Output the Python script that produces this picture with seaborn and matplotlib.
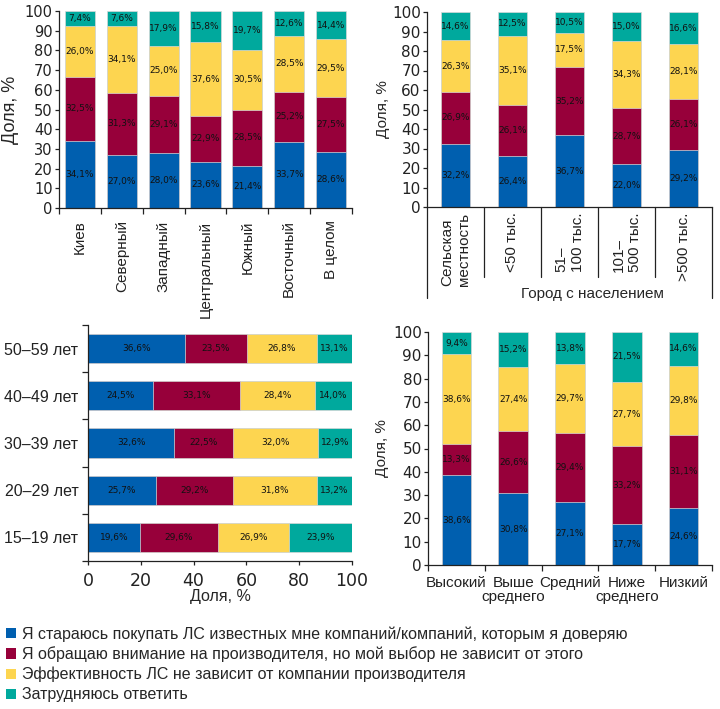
import matplotlib
matplotlib.use('Agg')
import matplotlib.pyplot as plt
import seaborn as sns
import pandas as pd
import numpy as np
from matplotlib.patches import Patch
from matplotlib.transforms import blended_transform_factory

# ---------------- data ----------------
series_names = [
    'Я стараюсь покупать ЛС известных мне компаний/компаний, которым я доверяю',
    'Я обращаю внимание на производителя, но мой выбор не зависит от этого',
    'Эффективность ЛС не зависит от компании производителя',
    'Затрудняюсь ответить',
]
colors = ['#005FAF', '#97003A', '#FDD550', '#00A99D']

region_cats = ['Киев', 'Северный', 'Западный', 'Центральный', 'Южный', 'Восточный', 'В целом']
region_trust = [34.1, 27.0, 28.0, 23.6, 21.4, 33.7, 28.6]
region_attention = [32.5, 31.3, 29.1, 22.9, 28.5, 25.2, 27.5]
region_indep = [26.0, 34.1, 25.0, 37.6, 30.5, 28.5, 29.5]
region_unsure = [7.4, 7.6, 17.9, 15.8, 19.7, 12.6, 14.4]

city_cats = ['Сельская\nместность', '<50 тыс.', '51–\n100 тыс.', '101–\n500 тыс.', '>500 тыс.']
city_group_label = 'Город с населением'
city_trust = [32.2, 26.4, 36.7, 22.0, 29.2]
city_attention = [26.9, 26.1, 35.2, 28.7, 26.1]
city_indep = [26.3, 35.1, 17.5, 34.3, 28.1]
city_unsure = [14.6, 12.5, 10.5, 15.0, 16.6]

age_cats = ['50–59 лет', '40–49 лет', '30–39 лет', '20–29 лет', '15–19 лет']
age_trust = [36.6, 24.5, 32.6, 25.7, 19.6]
age_attention = [23.5, 33.1, 22.5, 29.2, 29.6]
age_indep = [26.8, 28.4, 32.0, 31.8, 26.9]
age_unsure = [13.1, 14.0, 12.9, 13.2, 23.9]

income_cats = ['Высокий', 'Выше\nсреднего', 'Средний', 'Ниже\nсреднего', 'Низкий']
income_trust = [38.6, 30.8, 27.1, 17.7, 24.6]
income_attention = [13.3, 26.6, 29.4, 33.2, 31.1]
income_indep = [38.6, 27.4, 29.7, 27.7, 29.8]
income_unsure = [9.4, 15.2, 13.8, 21.5, 14.6]

# ---------------- style ----------------
sns.set_style('ticks')
plt.rcParams['font.family'] = ['Liberation Sans', 'DejaVu Sans']
plt.rcParams['axes.edgecolor'] = '#222222'
plt.rcParams['xtick.color'] = '#222222'
plt.rcParams['ytick.color'] = '#222222'
plt.rcParams['axes.linewidth'] = 0.9
NUM_FONT = ['DejaVu Sans']

fig = plt.figure(figsize=(7.2, 7.09), dpi=100)
W, H = 720.0, 709.0


def add_ax(l, r, t, b):
    return fig.add_axes([l / W, 1 - b / H, (r - l) / W, (b - t) / H])


def fmt(v):
    return f'{v:.1f}%'.replace('.', ',')


def stacked(ax, cats, series, width, orient='v'):
    arr = np.array(series, dtype=float)
    cum = np.cumsum(arr, axis=0)
    for i in range(len(series) - 1, -1, -1):
        d = pd.DataFrame({'cat': cats, 'val': cum[i]})
        kw = dict(data=d, color=colors[i], width=width, ax=ax, errorbar=None,
                  saturation=1, edgecolor='#d8d8d8', linewidth=0.5)
        if orient == 'v':
            sns.barplot(x='cat', y='val', **kw)
        else:
            sns.barplot(x='val', y='cat', orient='h', **kw)
    for i in range(arr.shape[0]):
        for j in range(arr.shape[1]):
            v = arr[i, j]
            c = cum[i, j] - v / 2
            if orient == 'v':
                ax.text(j, c, fmt(v), ha='center', va='center', fontsize=6.5,
                        family=NUM_FONT, color='#111111')
            else:
                ax.text(c, j, fmt(v), ha='center', va='center', fontsize=6.5,
                        family=NUM_FONT, color='#111111')
    ax.set_xlabel('')
    ax.set_ylabel('')
    sns.despine(ax=ax)


def vertical_setup(ax, n, ytick_fs):
    ax.set_ylim(0, 100)
    ax.set_xlim(-0.5, n - 0.5)
    ax.set_yticks(range(0, 101, 10))
    ax.set_yticklabels([str(v) for v in range(0, 101, 10)], family=NUM_FONT, fontsize=ytick_fs)
    ax.tick_params(axis='y', length=3, width=0.9, pad=1.5)
    ax.set_xticks(np.arange(-0.5, n, 1), minor=True)
    ax.tick_params(axis='x', which='minor', length=4, width=0.9, direction='out')


# ---------------- top-left: regions ----------------
ax1 = add_ax(59, 352, 11, 208)
stacked(ax1, region_cats, [region_trust, region_attention, region_indep, region_unsure], 0.72)
vertical_setup(ax1, len(region_cats), 10.5)
ax1.set_xticks(range(len(region_cats)))
ax1.set_xticklabels(region_cats, rotation=90, fontsize=11)
ax1.tick_params(axis='x', which='major', length=0, pad=9)
ax1.set_ylabel('Доля, %', fontsize=13)
ax1.yaxis.set_label_coords(-0.135, 0.5)

# ---------------- top-right: city size ----------------
ax2 = add_ax(427, 712, 12, 207)
stacked(ax2, city_cats, [city_trust, city_attention, city_indep, city_unsure], 0.52)
vertical_setup(ax2, len(city_cats), 11)
ax2.set_xticks(range(len(city_cats)))
ax2.set_xticklabels(city_cats, rotation=90, fontsize=11, multialignment='left')
ax2.tick_params(axis='x', which='major', length=0, pad=4)
ax2.tick_params(axis='x', which='minor', length=0)
ax2.set_ylabel('Доля, %', fontsize=11)
ax2.yaxis.set_label_coords(-0.13, 0.5)
tr = blended_transform_factory(ax2.transData, ax2.transAxes)
nb = len(city_cats)
for k, b in enumerate(np.arange(-0.5, nb, 1)):
    bottom = -0.465 if k in (0, nb) else -0.36
    ax2.plot([b, b], [0, bottom], transform=tr, clip_on=False, color='#222222', lw=0.9)
ax2.text(2.4, -0.447, city_group_label, transform=tr, ha='center', va='center', fontsize=11)

# ---------------- bottom-left: age ----------------
ax3 = add_ax(88, 352, 325, 561)
stacked(ax3, age_cats, [age_trust, age_attention, age_indep, age_unsure], 0.62, orient='h')
ax3.set_xlim(0, 100)
ax3.set_ylim(len(age_cats) - 0.5, -0.5)
ax3.set_xticks(range(0, 101, 20))
ax3.set_xticklabels([str(v) for v in range(0, 101, 20)], family=NUM_FONT, fontsize=12.5)
ax3.tick_params(axis='x', length=3, width=0.9, pad=5)
ax3.set_yticks(range(len(age_cats)))
ax3.set_yticklabels(age_cats, fontsize=11.5)
ax3.tick_params(axis='y', which='major', length=0, pad=7)
ax3.set_yticks(np.arange(-0.5, len(age_cats), 1), minor=True)
ax3.tick_params(axis='y', which='minor', length=4, width=0.9, direction='out')
ax3.set_xlabel('Доля, %', fontsize=11.5)
ax3.xaxis.set_label_coords(0.5, -0.12)

# ---------------- bottom-right: income ----------------
ax4 = add_ax(428, 712, 332, 565)
stacked(ax4, income_cats, [income_trust, income_attention, income_indep, income_unsure], 0.52)
vertical_setup(ax4, len(income_cats), 11)
ax4.set_xticks(range(len(income_cats)))
ax4.set_xticklabels(income_cats, fontsize=11, multialignment='center', linespacing=0.95)
ax4.tick_params(axis='x', which='major', length=0, pad=8)
ax4.set_ylabel('Доля, %', fontsize=11)
ax4.yaxis.set_label_coords(-0.137, 0.5)

# ---------------- legend ----------------
handles = [Patch(facecolor=c, edgecolor='none') for c in colors]
fig.legend(handles, series_names, loc='upper left', bbox_to_anchor=(6 / W, 1 - 626 / H),
           frameon=False, handlelength=0.6, handleheight=0.6, handletextpad=0.4,
           labelspacing=0.3, borderpad=0, borderaxespad=0,
           prop={'family': ['Liberation Sans'], 'size': 11.5})

fig.savefig('out.png', dpi=100)
